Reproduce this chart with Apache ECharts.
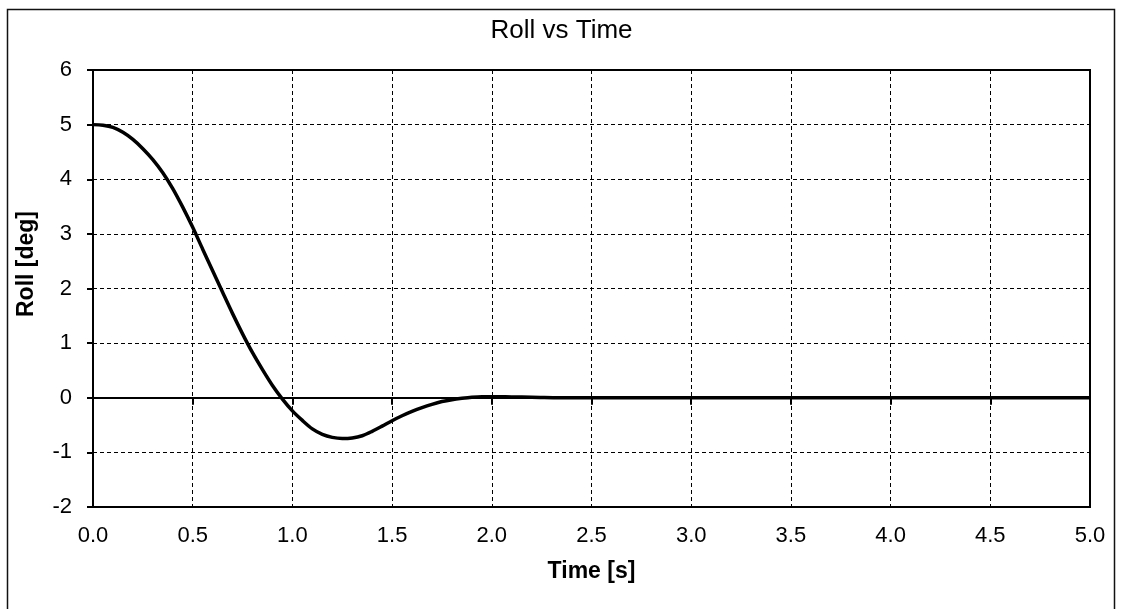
<!DOCTYPE html>
<html>
<head>
<meta charset="utf-8">
<title>Roll vs Time</title>
<script src="https://cdn.jsdelivr.net/npm/echarts@6/dist/echarts.min.js"></script>
<style>
  html, body { margin: 0; padding: 0; background: #fff; }
  #chart { width: 1123px; height: 609px; }
</style>
</head>
<body>
<div id="chart"></div>
<script>
// time samples [s]
const timeS = [
  0.00, 0.05, 0.10, 0.15, 0.20, 0.25, 0.30, 0.35, 0.40, 0.45,
  0.50, 0.55, 0.60, 0.65, 0.70, 0.75, 0.80, 0.85, 0.90, 0.95,
  1.00, 1.05, 1.10, 1.15, 1.20, 1.25, 1.30, 1.35, 1.40, 1.45,
  1.50, 1.55, 1.60, 1.65, 1.70, 1.75, 1.80, 1.85, 1.90, 1.95,
  2.00, 2.10, 2.20, 2.40, 2.50, 3.00, 3.50, 4.00, 4.50, 5.00
];
// roll angle [deg]
const rollDeg = [
  5.00, 4.99, 4.95, 4.86, 4.73, 4.56, 4.36, 4.12, 3.83, 3.49,
  3.12, 2.72, 2.325, 1.93, 1.54, 1.17, 0.825, 0.515, 0.225, -0.025,
  -0.24, -0.415, -0.57, -0.67, -0.725, -0.745, -0.735, -0.695, -0.615, -0.52,
  -0.42, -0.33, -0.25, -0.18, -0.12, -0.07, -0.035, -0.01, 0.01, 0.02,
  0.02, 0.015, 0.01, 0.00, 0.00, 0.00, 0.00, 0.00, 0.00, 0.00
];

const chartTitle = 'Roll vs Time';
const xName = 'Time [s]';
const yName = 'Roll [deg]';

document.addEventListener('DOMContentLoaded', () => {
  const chart = echarts.init(document.getElementById('chart'));
  const font = "'Liberation Sans', Arial, sans-serif";

  const points = timeS.map((t, i) => [t, rollDeg[i]]);

  const gridLine = { show: true, lineStyle: { color: '#000', width: 1, type: [4, 3] } };

  const option = {
    backgroundColor: '#fff',
    animation: false,
    graphic: [
      {
        type: 'rect',
        shape: { x: 7.5, y: 9.5, width: 1107, height: 620 },
        style: { fill: 'none', stroke: '#111', lineWidth: 1.5 },
        silent: true
      },
      {
        // y axis title sits a bit above the plot centre in the original
        type: 'text',
        x: 27, y: 264,
        rotation: Math.PI / 2,
        style: {
          text: yName,
          fontFamily: font, fontSize: 23, fontWeight: 'bold', fill: '#000',
          align: 'center', verticalAlign: 'middle'
        },
        silent: true
      }
    ],
    title: {
      text: chartTitle,
      left: 'center',
      top: 13,
      textStyle: { fontFamily: font, fontSize: 26, fontWeight: 'normal', color: '#000' }
    },
    grid: {
      left: 93, top: 70, right: 33, bottom: 102,
      show: true, borderColor: '#000', borderWidth: 2,
      containLabel: false
    },
    xAxis: {
      type: 'value',
      min: 0, max: 5, interval: 0.5,
      name: xName,
      nameLocation: 'middle',
      nameGap: 53,
      nameTextStyle: { fontFamily: font, fontSize: 23, fontWeight: 'bold', color: '#000' },
      axisLine: { show: true, lineStyle: { color: '#000', width: 2 } },
      axisTick: { show: true, length: 7, lineStyle: { color: '#000', width: 2 } },
      axisLabel: {
        margin: 18,
        fontFamily: font, fontSize: 22, color: '#000',
        formatter: v => v.toFixed(1)
      },
      splitLine: gridLine
    },
    yAxis: {
      type: 'value',
      min: -2, max: 6, interval: 1,
      axisLine: { show: true, lineStyle: { color: '#000', width: 2 } },
      axisTick: { show: true, length: 6, lineStyle: { color: '#000', width: 2 } },
      axisLabel: { margin: 21, fontFamily: font, fontSize: 22, color: '#000' },
      splitLine: gridLine
    },
    series: [{
      type: 'line',
      data: points,
      smooth: 0.3,
      showSymbol: false,
      lineStyle: { color: '#000', width: 3.5 },
      z: 5
    }]
  };

  chart.setOption(option);
});
</script>
</body>
</html>
